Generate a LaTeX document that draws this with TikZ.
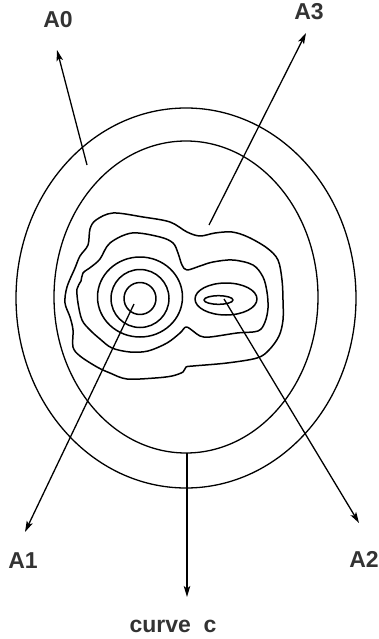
\documentclass[tikz,border=0pt]{standalone}
\usepackage{fontspec}
\setmainfont{Liberation Sans}
\usetikzlibrary{arrows.meta}

\begin{document}
\begin{tikzpicture}[x=1pt, y=-1pt,
    contour/.style={line width=1.5pt, line join=round},
    bound/.style={line width=1.3pt},
    arr/.style={line width=1.3pt, -{Stealth[length=11pt, width=6.5pt, inset=2.5pt]}},
    lbl/.style={anchor=base, text=black!80, font=\fontsize{23}{26}\selectfont\bfseries}]
    \useasboundingbox (0,0) rectangle (379,639);

    % outer and inner regions
    \draw[bound] (186,298) ellipse [x radius=170, y radius=190];
    \draw[bound] (186,297) ellipse [x radius=132, y radius=156];

    % level curves round the left peak
    \foreach \r in {16, 29} {
        \draw[contour] (140,298.5) circle [radius=\r];
    }
    \draw[contour] (140,297) ellipse [x radius=42.5, y radius=40];

    % level curves round the right peak
    \draw[contour] (218.5,300) ellipse [x radius=14.5, y radius=4.3];
    \draw[contour] (226,299) ellipse [x radius=31, y radius=16];

    % level curve holding both peaks
    \draw[contour] plot[smooth cycle, tension=0.55] coordinates {
        (132,233) (160,237) (173,243) (178,253) (182,265) (187,270)
        (200,266) (213,262) (233,260) (253,265) (263,277) (267,292)
        (268,308) (265,322) (258,331) (237,333) (210,337) (200,336)
        (193,331) (186,327) (180,333) (167,343) (148,351) (130,352)
        (112,348) (100,339) (90,330) (82,320) (78,303) (77,289)
        (81,281) (83,273) (91,267) (100,259) (110,243)};

    % outermost wavy level curve
    \draw[contour] plot[smooth cycle, tension=0.55] coordinates {
        (113,213) (143,217) (170,222) (187,232) (200,236) (215,233)
        (232,232) (248,237) (267,248) (278,260) (282,280) (283,300)
        (283,320) (279,336) (269,350) (257,358) (227,363) (193,366)
        (186,367) (183,372) (172,376) (155,378) (127,379) (110,373)
        (97,367) (80,356) (73,347) (73,330) (70,317) (65,303)
        (67,287) (75,268) (80,256) (88,245) (90,229) (96,220)};

    % arrow ends
    \coordinate (a0from) at (87,165);
    \coordinate (a0tip) at (57,50);
    \coordinate (a3from) at (209,225);
    \coordinate (a3tip) at (306,33);
    \coordinate (a1from) at (134,304);
    \coordinate (a1tip) at (25,532);
    \coordinate (a2from) at (224,299);
    \coordinate (a2tip) at (359,523);
    \coordinate (cfrom) at (187,453);
    \coordinate (ctip) at (187,597);

    % labels
    \node[lbl] (A0) at (58,28) {A0};
    \node[lbl] (A3) at (309,20) {A3};
    \node[lbl] (A1) at (23,568) {A1};
    \node[lbl] (A2) at (364,567) {A2};
    \node[lbl] (curvec) at (173,632) {curve\ \ c};

    % arrows
    \draw[arr] (a0from) -- (a0tip);
    \draw[arr] (a3from) -- (a3tip);
    \draw[arr] (a1from) -- (a1tip);
    \draw[arr] (a2from) -- (a2tip);
    \draw[arr] (cfrom) -- (ctip);
\end{tikzpicture}
\end{document}
